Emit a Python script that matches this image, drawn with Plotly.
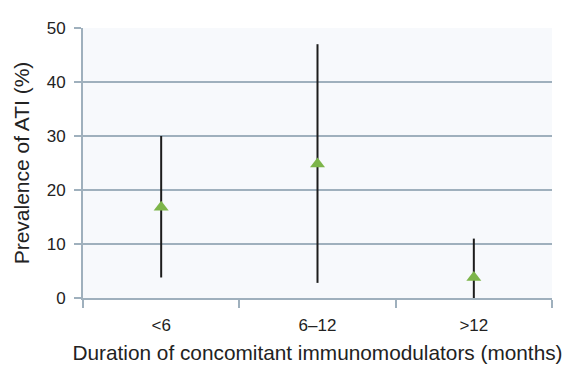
import plotly.graph_objects as go

categories = ["<6", "6\u201312", ">12"]
prevalence = [16.8, 24.8, 3.8]
ci_low = [3.8, 2.8, 0.0]
ci_high = [30.0, 47.0, 11.0]

err_plus = [h - m for h, m in zip(ci_high, prevalence)]
err_minus = [m - l for m, l in zip(prevalence, ci_low)]

fig = go.Figure()
fig.add_trace(go.Scatter(
    x=categories, y=prevalence, mode="markers",
    marker=dict(symbol="triangle-up", size=13, color="#7db54a"),
    error_y=dict(type="data", symmetric=False, array=err_plus, arrayminus=err_minus,
                 color="#1c1c1c", thickness=2, width=0),
    showlegend=False,
))

font = "Liberation Sans, Arial, sans-serif"
fig.update_layout(
    width=572, height=366,
    margin=dict(l=75, r=28, t=11, b=76),
    paper_bgcolor="white", plot_bgcolor="#f7f9fc",
    font=dict(family=font, size=17, color="#222222"),
    xaxis=dict(
        type="category", range=[-0.5, 2.5],
        showgrid=False, showline=True, linecolor="#9fb0bd", linewidth=2,
        ticks="outside", ticklen=8, tickcolor="#9fb0bd", tickwidth=2,
        tickson="boundaries", ticklabelstandoff=11,
        title=dict(text="Duration of concomitant immunomodulators (months)",
                   font=dict(size=20.8), standoff=11),
        tickfont=dict(size=17),
    ),
    yaxis=dict(
        range=[0, 50], tickvals=[0, 10, 20, 30, 40, 50],
        showgrid=True, gridcolor="#9fb0bd", gridwidth=2,
        showline=True, linecolor="#9fb0bd", linewidth=2,
        ticks="outside", ticklen=7, tickcolor="#9fb0bd", tickwidth=2,
        zeroline=False, ticklabelstandoff=5,
        title=dict(text="Prevalence of ATI (%)", font=dict(size=21), standoff=11),
        tickfont=dict(size=17),
    ),
)

fig.write_html("out.html")
